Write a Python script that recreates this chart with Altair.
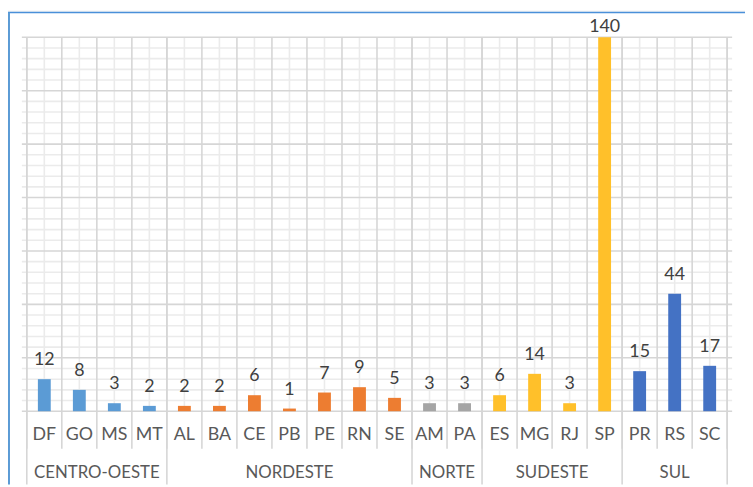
import altair as alt
import pandas as pd
import numpy as np

states = ["DF", "GO", "MS", "MT", "AL", "BA", "CE", "PB", "PE", "RN", "SE",
          "AM", "PA", "ES", "MG", "RJ", "SP", "PR", "RS", "SC"]
regions = ["CENTRO-OESTE"] * 4 + ["NORDESTE"] * 7 + ["NORTE"] * 2 + ["SUDESTE"] * 4 + ["SUL"] * 3
values = [12, 8, 3, 2, 2, 2, 6, 1, 7, 9, 5, 3, 3, 6, 14, 3, 140, 15, 44, 17]
region_names = ["CENTRO-OESTE", "NORDESTE", "NORTE", "SUDESTE", "SUL"]
region_colors = ["#5B9BD5", "#ED7D31", "#A5A5A5", "#FFC02A", "#4472C4"]

Y_MAX = 140
N = len(states)
W, H = 718, 378
FONT = "Lato"

df = pd.DataFrame({"state": states, "region": regions, "v": values})
df["idx"] = np.arange(N)
df["xc"] = df["idx"] + 0.5

# region boundaries and centres
bounds = [0]
for i in range(1, N):
    if regions[i] != regions[i - 1]:
        bounds.append(i)
bounds.append(N)
reg_df = pd.DataFrame({
    "region": region_names,
    "xc": [(bounds[k] + bounds[k + 1]) / 2 for k in range(len(region_names))],
})
reg_bounds = pd.DataFrame({"b": bounds})
state_bounds = pd.DataFrame({"b": list(range(N + 1))})
minor_v = pd.DataFrame({"b": [i + 0.5 for i in range(N)]})
major_h = pd.DataFrame({"g": list(range(0, Y_MAX + 1, 20))})
minor_h = pd.DataFrame({"g": [g for g in range(0, Y_MAX + 1, 4) if g % 20 != 0]})

xs = alt.Scale(domain=[0, N], nice=False, zero=False)
ys = alt.Scale(domain=[0, Y_MAX], nice=False, zero=True)

grid_minor_h = alt.Chart(minor_h).mark_rule(color="#ebebeb", strokeWidth=1.6).encode(
    y=alt.Y("g:Q", scale=ys, axis=None), x=alt.value(0), x2=alt.value(W))
grid_minor_v = alt.Chart(minor_v).mark_rule(color="#ebebeb", strokeWidth=1.6).encode(
    x=alt.X("b:Q", scale=xs, axis=None), y=alt.value(0), y2=alt.value(H))
grid_major_h = alt.Chart(major_h).mark_rule(color="#d6d6d6", strokeWidth=1.6).encode(
    y=alt.Y("g:Q", scale=ys, axis=None), x=alt.value(0), x2=alt.value(W))
sep_states = alt.Chart(state_bounds).mark_rule(color="#d6d6d6", strokeWidth=1.6).encode(
    x=alt.X("b:Q", scale=xs, axis=None), y=alt.value(0), y2=alt.value(416))
sep_regions = alt.Chart(reg_bounds).mark_rule(color="#d6d6d6", strokeWidth=1.6).encode(
    x=alt.X("b:Q", scale=xs, axis=None), y=alt.value(0), y2=alt.value(452))

bars = alt.Chart(df).mark_bar(size=13).encode(
    x=alt.X("xc:Q", scale=xs, axis=None),
    y=alt.Y("v:Q", scale=ys, axis=None),
    color=alt.Color("region:N", scale=alt.Scale(domain=region_names, range=region_colors), legend=None),
)

labels = alt.Chart(df).transform_calculate(
    lv="min(datum.v, 136.7)"
).mark_text(font=FONT, fontSize=18, color="#404040", baseline="alphabetic", dy=-14).encode(
    x=alt.X("xc:Q", scale=xs, axis=None),
    y=alt.Y("lv:Q", scale=ys, axis=None),
    text="v:Q",
)

state_text = alt.Chart(df).mark_text(font=FONT, fontSize=18, color="#595959", baseline="middle").encode(
    x=alt.X("xc:Q", scale=xs, axis=None), y=alt.value(402), text="state:N")
region_text = alt.Chart(reg_df).mark_text(font=FONT, fontSize=17, color="#595959", baseline="middle").encode(
    x=alt.X("xc:Q", scale=xs, axis=None), y=alt.value(441), text="region:N")

frame_df = pd.DataFrame({"k": [0]})
top_band = alt.Chart(frame_df).mark_rect(color="#f4f4f4").encode(
    x=alt.value(-14), x2=alt.value(W + 13), y=alt.value(-27), y2=alt.value(-25))
frame_top = alt.Chart(frame_df).mark_rule(color="#4a90d9", strokeWidth=1.5).encode(
    x=alt.value(-14), x2=alt.value(W + 13), y=alt.value(-25))
frame_left = alt.Chart(frame_df).mark_rule(color="#5b9bd5", strokeWidth=2).encode(
    x=alt.value(-13), y=alt.value(-25), y2=alt.value(452))

chart = alt.layer(
    top_band, grid_minor_h, grid_minor_v, grid_major_h, sep_states, sep_regions,
    bars, labels, state_text, region_text, frame_top, frame_left,
).properties(
    width=W, height=H,
    autosize=alt.AutoSizeParams(type="none"),
    padding={"left": 14, "top": 27, "right": 13, "bottom": 74},
    background="white",
).configure_view(stroke=None)

chart.save("out.html", embed_options={"renderer": "svg", "actions": False})
